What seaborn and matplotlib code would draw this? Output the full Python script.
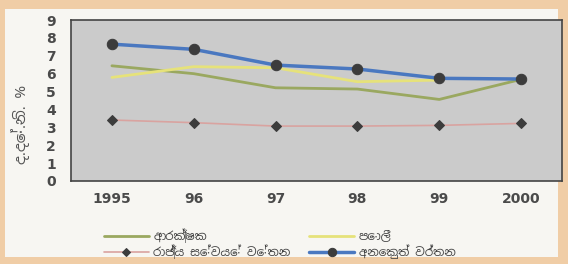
import numpy as np
import pandas as pd
import seaborn as sns
from matplotlib import pyplot as plt
from matplotlib.patches import Rectangle

years = ['1995', '96', '97', '98', '99', '2000']
defence = [6.44, 6.0, 5.21, 5.14, 4.56, 5.68]
interest = [5.79, 6.39, 6.33, 5.55, 5.64, np.nan]
salaries = [3.41, 3.26, 3.07, 3.07, 3.11, 3.22]
other = [7.65, 7.36, 6.48, 6.26, 5.74, 5.7]

names = ['ආරක්‍ෂක', 'පොලී', 'රාජ්‍ය සේවයේ වේතන', 'අනෙකුත් වර්තන']
ylabel = 'ද.දේ.නි. %'

sns.set_style('white')
plt.rcParams['font.family'] = ['Noto Sans Sinhala', 'Noto Serif Sinhala', 'DejaVu Sans']

df = pd.DataFrame({'pos': np.arange(len(years)), 'defence': defence,
                   'interest': interest, 'salaries': salaries, 'other': other})

fig = plt.figure(figsize=(5.68, 2.64), dpi=100)
fig.patch.set_facecolor('#f0cda6')
fig.patches.append(Rectangle((5 / 568, 7 / 264), 553 / 568, 248 / 264,
                             transform=fig.transFigure, facecolor='#f7f6f2',
                             edgecolor='none', zorder=-5))
ax = fig.add_axes([71 / 568, 83 / 264, 491 / 568, 161 / 264])
ax.set_facecolor('#cbcbcb')

sns.lineplot(data=df, x='pos', y='defence', ax=ax, color='#9aa860', lw=2, label=names[0])
sns.lineplot(data=df, x='pos', y='interest', ax=ax, color='#e6e27a', lw=2, label=names[1])
sns.lineplot(data=df, x='pos', y='salaries', ax=ax, color='#d9a3a0', lw=1.2,
             marker='D', markersize=5, markerfacecolor='#3c3c3c',
             markeredgecolor='#3c3c3c', label=names[2])
sns.lineplot(data=df, x='pos', y='other', ax=ax, color='#4a78c0', lw=2.5,
             marker='o', markersize=7.5, markerfacecolor='#3c3c3c',
             markeredgecolor='#3c3c3c', label=names[3])

ax.set_xlim(-0.5, 5.5)
ax.set_ylim(0, 9)
ax.set_xticks(df['pos'])
ax.set_xticklabels(years)
ax.set_yticks(range(10))
ax.tick_params(length=0, labelsize=10, labelcolor='#4a4a4a', pad=8)
for lab in ax.get_xticklabels() + ax.get_yticklabels():
    lab.set_fontweight('bold')
    lab.set_family('DejaVu Sans')
ax.tick_params(axis='y', pad=11)
ax.set_xlabel('')
ax.set_ylabel(ylabel, fontsize=11, color='#555555')
ax.yaxis.set_label_coords(-0.083, 0.35)
for s in ax.spines.values():
    s.set_color('#444444')
    s.set_linewidth(1.2)

# legend fills column-first, so reorder to get the reference's rows
h, l = ax.get_legend_handles_labels()
order = [0, 2, 1, 3]
leg = ax.legend([h[i] for i in order], [l[i] for i in order],
                loc='upper left', bbox_to_anchor=(0.045, -0.23), ncol=2,
                frameon=False, fontsize=8.5, handlelength=3.8, markerscale=0.8,
                columnspacing=1.6, handletextpad=0.4, labelspacing=0.1,
                labelcolor='#444444')

fig.savefig('out.png', dpi=100, facecolor=fig.get_facecolor())
